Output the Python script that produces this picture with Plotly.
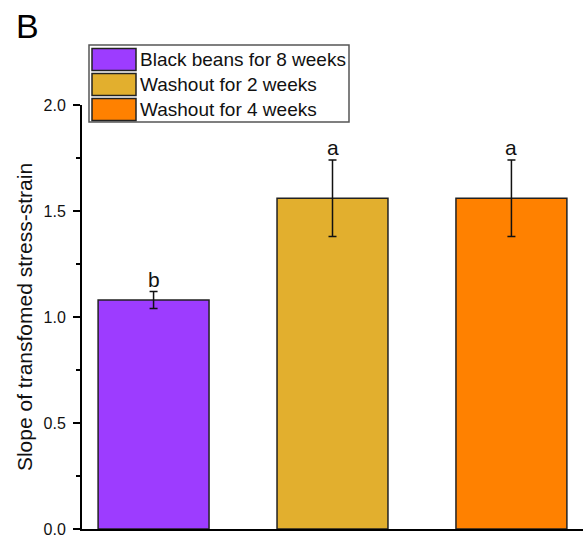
import plotly.graph_objects as go

# Data
groups = ["Black beans for 8 weeks", "Washout for 2 weeks", "Washout for 4 weeks"]
slopes = [1.08, 1.56, 1.56]
slope_err = [0.04, 0.18, 0.18]
sig_letters = ["b", "a", "a"]
colors = ["#9D3CFF", "#E2AF2E", "#FF8100"]
y_label = "Slope of transfomed stress-strain"
panel_tag = "B"

W, H = 583, 538
M_L, M_R, M_T, M_B = 82, 0, 105, 9
PW, PH = W - M_L - M_R, H - M_T - M_B
FONT = "Arial, Liberation Sans, sans-serif"


def px_x(px):
    return (px - M_L) / PW


def px_y(py):
    return (H - M_B - py) / PH


fig = go.Figure()
fig.add_trace(go.Bar(
    x=groups,
    y=slopes,
    width=0.62,
    marker=dict(color=colors, line=dict(color="#222222", width=1.5)),
    error_y=dict(type="data", array=slope_err, visible=True,
                 color="#111111", thickness=1.5, width=4),
    showlegend=False,
))

# significance letters above the error bars
for g, v, e, lab in zip(groups, slopes, slope_err, sig_letters):
    fig.add_annotation(x=g, y=v + e, text=lab, showarrow=False,
                       xanchor="center", yanchor="bottom", yshift=-1,
                       font=dict(family=FONT, size=21, color="#111111"))

# legend box drawn by hand with large swatches
shapes = [dict(type="rect", xref="paper", yref="paper",
               x0=px_x(89), x1=px_x(349), y0=px_y(122), y1=px_y(45),
               line=dict(color="#555555", width=1.5), fillcolor="white", layer="above")]
row_top = [48.5, 73.5, 98.5]
for i, (g, c) in enumerate(zip(groups, colors)):
    top = row_top[i]
    shapes.append(dict(type="rect", xref="paper", yref="paper",
                       x0=px_x(92), x1=px_x(136), y0=px_y(top + 22), y1=px_y(top),
                       line=dict(color="#222222", width=1.5), fillcolor=c, layer="above"))
    fig.add_annotation(xref="paper", yref="paper", x=px_x(138), y=px_y(top + 11),
                       text=g, showarrow=False, xanchor="left", yanchor="middle",
                       font=dict(family=FONT, size=19, color="#111111"))

# panel tag
fig.add_annotation(xref="paper", yref="paper", x=px_x(14), y=px_y(5),
                   text=panel_tag, showarrow=False, xanchor="left", yanchor="top",
                   font=dict(family=FONT, size=34, color="#000000"))

fig.update_layout(
    width=W, height=H,
    margin=dict(l=M_L, r=M_R, t=M_T, b=M_B, pad=0),
    paper_bgcolor="white", plot_bgcolor="white",
    shapes=shapes,
    font=dict(family=FONT, color="#111111"),
)
fig.update_xaxes(
    type="category", range=[-0.4, 2.4],
    showticklabels=False, ticks="", showgrid=False,
    showline=True, linecolor="#000000", linewidth=2,
)
fig.update_yaxes(
    range=[0, 2.0], dtick=0.5, tickformat=".1f",
    ticks="outside", ticklen=7, tickwidth=2, tickcolor="#000000",
    minor=dict(dtick=0.25, ticks="outside", ticklen=4, tickwidth=2, tickcolor="#000000"),
    showgrid=False, zeroline=False,
    showline=True, linecolor="#000000", linewidth=2,
    tickfont=dict(family=FONT, size=16, color="#111111"),
    ticklabelstandoff=4,
    title=dict(text=y_label, font=dict(family=FONT, size=21, color="#111111"), standoff=5),
)

fig.write_html("out.html")
